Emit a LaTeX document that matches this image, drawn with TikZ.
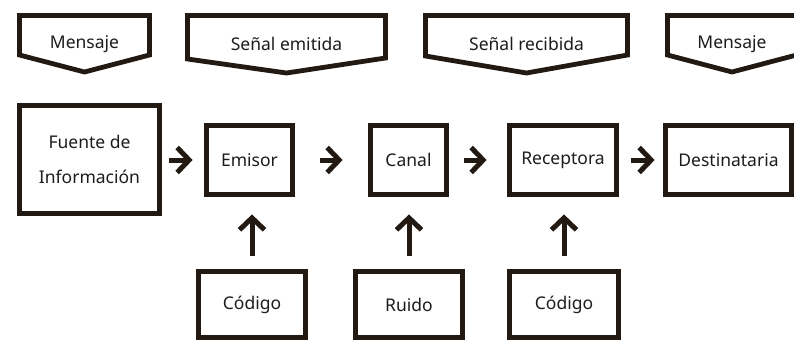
\documentclass[tikz,border=0pt]{standalone}
\usepackage{fontspec}
\setmainfont{Noto Sans}
\usetikzlibrary{arrows.meta}
\definecolor{trazo}{HTML}{221A12}
\definecolor{letra}{HTML}{1C1C1C}
\tikzset{
  letras/.style={text=letra, font=\fontsize{17.5bp}{35bp}\selectfont},
  caja/.style={letras, draw=trazo, line width=4.8bp, minimum height=69bp, inner sep=0pt, align=center},
  abajo/.style={caja, minimum height=66bp},
  flecha/.style={draw=trazo, line width=5bp, -{Straight Barb[length=12bp,width=25bp]}},
  cartel/.style={draw=trazo, line width=4.8bp, line join=miter}
}
\begin{document}
\begin{tikzpicture}[x=1bp, y=-1bp]
	\useasboundingbox (0,0) rectangle (794,340);

	% carteles de arriba
	\draw[cartel] (19.5,15.5) -- (149.5,15.5) -- (149.5,55) -- (84.5,72) -- (19.5,55) -- cycle;
	\draw[cartel] (187.5,15.5) -- (385.5,15.5) -- (385.5,58) -- (286.5,73) -- (187.5,59) -- cycle;
	\draw[cartel] (425.5,15.5) -- (627.5,15.5) -- (627.5,55) -- (526.5,73) -- (425.5,56) -- cycle;
	\draw[cartel] (667.5,15.5) -- (796.5,15.5) -- (796.5,55) -- (732,72) -- (667.5,55) -- cycle;
	\node[letras] (msj1) at (84.5,44) {Mensaje};
	\node[letras] (emitida) at (286.5,44) {Señal emitida};
	\node[letras] (recibida) at (526.5,44) {Señal recibida};
	\node[letras] (msj2) at (732,44) {Mensaje};

	% fila principal
	\node[caja, minimum width=140bp, minimum height=108bp] (fuente) at (89.5,159.5) {Fuente de\\Información};
	\node[caja, minimum width=86bp] (emisor) at (249.5,160) {Emisor};
	\node[caja, minimum width=76bp] (canal) at (408.5,160) {Canal};
	\node[caja, minimum width=107bp] (receptora) at (563,160) {Receptora};
	\node[caja, minimum width=126bp] (destino) at (728.5,160) {Destinataria};

	% fila de abajo
	\node[abajo, minimum width=107bp] (codigo1) at (252,304.5) {Código};
	\node[abajo, minimum width=107bp] (ruido) at (409,304.5) {Ruido};
	\node[abajo, minimum width=109bp] (codigo2) at (564,304.5) {Código};

	\draw[flecha, shorten <=7.5bp, shorten >=11.5bp] (fuente.east |- emisor) -- (emisor.west);
	\draw[flecha, shorten <=25.5bp, shorten >=25.5bp] (emisor.east) -- (canal.west);
	\draw[flecha, shorten <=15.5bp, shorten >=20.5bp] (canal.east) -- (receptora.west);
	\draw[flecha, shorten <=12.5bp, shorten >=8.5bp] (receptora.east) -- (destino.west);

	\draw[flecha, shorten <=13.5bp, shorten >=17.5bp] (codigo1.north) -- (codigo1 |- emisor.south);
	\draw[flecha, shorten <=13.5bp, shorten >=17.5bp] (ruido.north) -- (ruido |- canal.south);
	\draw[flecha, shorten <=13.5bp, shorten >=17.5bp] (codigo2.north) -- (codigo2 |- receptora.south);
\end{tikzpicture}
\end{document}
